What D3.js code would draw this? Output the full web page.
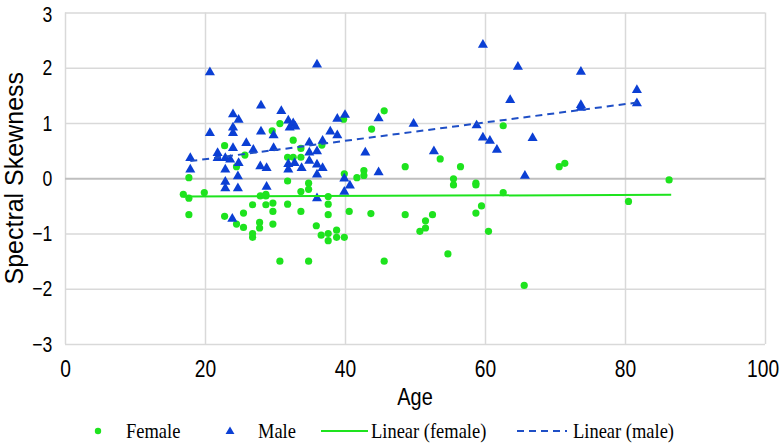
<!DOCTYPE html>
<html>
<head>
<meta charset="utf-8">
<script src="https://cdn.jsdelivr.net/npm/d3@7"></script>
<style>
  html, body { margin: 0; padding: 0; background: #fff; }
  svg { display: block; }
</style>
</head>
<body>
<svg id="chart" width="780" height="445"></svg>
<script>
// ---- data (age, spectral skewness) ----
const femaleAge = [16.9,17.7,17.7,17.7,19.9,22.8,22.8,24.5,24.5,25.7,25.5,25.5,26.8,26.8,26.8,27.8,27.8,27.9,28.7,28.7,
  29.7,29.7,29.7,31.8,31.8,33.7,33.7,34.8,34.8,30.7,34.8,35.9,36.6,37.6,37.6,37.6,37.6,37.6,38.8,38.8,
  39.9,40.6,43.7,39.9,41.7,42.7,42.7,30.7,29.6,32.6,33.7,31.8,32.6,33.7,36.7,43.8,39.8,45.6,62.6,53.6,
  48.6,56.5,55.5,55.5,58.7,58.7,62.6,70.6,71.4,59.5,58.7,48.6,51.5,52.5,51.5,50.7,60.5,45.6,54.7,65.6,
  86.3,80.5,28.7];
const femaleSkew = [-0.29,0.01,-0.36,-0.66,-0.26,0.59,-0.69,0.21,-0.83,0.42,-0.63,-0.89,-0.48,-1.0,-1.07,-0.8,-0.9,-0.32,-0.32,-0.48,
  -0.45,-0.6,-0.83,-0.47,-0.05,-0.6,-0.24,-0.09,-0.2,-1.5,-1.5,-0.86,-1.03,-1.0,-1.13,-0.33,-0.47,-0.66,-0.94,-1.07,
  -1.07,-0.6,-0.64,0.08,0.01,0.14,0.05,0.99,0.86,0.69,0.54,0.38,0.38,0.38,0.6,0.89,1.07,1.22,0.95,0.35,
  0.21,0.21,-0.01,-0.12,-0.09,-0.12,-0.26,0.21,0.27,-0.5,-0.63,-0.66,-0.77,-0.66,-0.9,-0.96,-0.96,-1.5,-1.37,-1.94,
  -0.03,-0.42,-0.29];
const maleAge = [17.9,17.9,20.7,20.7,21.8,21.8,22.9,23.6,24.8,22.9,24.0,24.8,24.0,24.0,24.0,22.9,24.7,22.9,24.7,23.9,
  25.9,26.9,28.0,28.0,29.8,29.8,30.9,31.9,32.6,32.1,32.9,27.9,28.8,31.9,32.8,33.8,31.9,28.8,34.9,36.8,
  37.9,38.9,40.0,38.9,34.9,36.0,34.9,36.0,36.8,36.0,36.0,36.0,39.9,40.7,39.9,42.9,44.8,44.8,49.8,52.7,
  58.8,59.7,59.7,60.7,61.7,63.6,64.7,65.7,66.8,73.7,73.7,73.7,81.7,81.7];
const maleSkew = [0.38,0.17,1.93,0.83,0.47,0.38,0.38,0.35,0.29,0.17,1.17,1.07,0.93,0.83,0.56,-0.05,0.05,-0.17,-0.17,-0.72,
  0.65,0.53,1.33,0.86,0.79,0.56,1.23,1.06,1.01,0.93,0.95,0.23,0.2,0.27,0.29,0.2,0.17,-0.14,0.66,0.69,
  0.86,1.09,1.16,0.79,0.48,0.5,0.33,0.26,0.2,0.08,2.07,-0.35,0.01,-0.12,-0.23,0.48,1.1,0.12,1.0,0.5,
  0.97,2.43,0.75,0.69,0.53,1.43,2.03,0.06,0.74,1.94,1.34,1.29,1.61,1.37];
// trend line end points
const femaleTrendAge = [16.9, 86.6];
const femaleTrendSkew = [-0.33, -0.30];
const maleTrendAge = [17.9, 81.7];
const maleTrendSkew = [0.31, 1.37];

const xTicks = [0,20,40,60,80,100];
const yTicks = [-3,-2,-1,0,1,2,3];
const seriesNames = ["Female","Male","Linear (female)","Linear (male)"];

// ---- drawing ----
const GREEN = "#1ee31e", BLUE = "#0b3fd4", DASHBLUE = "#1f4fc6";
const svg = d3.select("#chart");
const x = d3.scaleLinear().domain([0,100]).range([65,765]);
const y = d3.scaleLinear().domain([-3,3]).range([344,12.5]);
const sansFont = "'Liberation Sans',Arial,sans-serif";
const NARROW = 0.8;

// gridlines
const gx = svg.append("g").attr("transform",`translate(0,${y(-3)})`)
  .call(d3.axisBottom(x).tickValues(xTicks).tickSize(-(y(-3)-y(3))).tickFormat(""));
gx.select(".domain").remove();
gx.selectAll("line").attr("stroke","#d9d9d9").attr("stroke-width",1.5);
const gy = svg.append("g").attr("transform",`translate(${x(0)},0)`)
  .call(d3.axisLeft(y).tickValues(yTicks).tickSize(-(x(100)-x(0))).tickFormat(""));
gy.select(".domain").remove();
gy.selectAll("line").attr("stroke", d => d===0 ? "#bfbfbf" : "#d9d9d9")
  .attr("stroke-width", d => d===0 ? 2 : 1.5);

// tick labels (narrow, tall sans)
const ax = svg.append("g").attr("transform",`translate(0,${y(-3)})`)
  .call(d3.axisBottom(x).tickValues(xTicks).tickSize(0).tickPadding(16).tickFormat(d3.format("d")));
ax.select(".domain").remove();
ax.selectAll("text").attr("font-family",sansFont).attr("font-size",24).attr("fill","#000")
  .attr("transform",`scale(${NARROW},1)`)
  .attr("dx", d => d===100 ? -3 : 0);
const ay = svg.append("g").attr("transform",`translate(${x(0)},0)`)
  .call(d3.axisLeft(y).tickValues(yTicks).tickSize(0).tickPadding(16).tickFormat(d3.format("d")));
ay.select(".domain").remove();
ay.selectAll("text").attr("font-family",sansFont).attr("font-size",22).attr("fill","#000")
  .attr("transform",`scale(${NARROW},1)`)
  .attr("dy", d => d===3 ? "0.42em" : "0.32em");

// axis titles
svg.append("text").attr("transform",`translate(${(x(0)+x(100))/2},405) scale(${NARROW+0.03},1)`)
  .attr("text-anchor","middle").attr("font-family",sansFont).attr("font-size",24).text("Age");
svg.append("text").attr("transform",`translate(23,${(y(3)+y(-3))/2}) rotate(-90)`)
  .attr("text-anchor","middle").attr("font-family",sansFont)
  .attr("font-size",25).text("Spectral Skewness");

// points
const female = femaleAge.map((a,i)=>({a, s: femaleSkew[i]}));
const male = maleAge.map((a,i)=>({a, s: maleSkew[i]}));
svg.append("g").selectAll("circle").data(female).join("circle")
  .attr("cx",d=>x(d.a)).attr("cy",d=>y(d.s)).attr("r",3.6).attr("fill",GREEN);
const tri = d3.symbol().type(d3.symbolTriangle).size(44);
svg.append("g").selectAll("path").data(male).join("path")
  .attr("d",tri).attr("transform",d=>`translate(${x(d.a)},${y(d.s)+0.8})`).attr("fill",BLUE);

// trend lines
const line = d3.line().x(d=>x(d[0])).y(d=>y(d[1]));
svg.append("path").datum(femaleTrendAge.map((a,i)=>[a,femaleTrendSkew[i]]))
  .attr("d",line).attr("stroke",GREEN).attr("stroke-width",2).attr("fill","none");
svg.append("path").datum(maleTrendAge.map((a,i)=>[a,maleTrendSkew[i]]))
  .attr("d",line).attr("stroke",DASHBLUE).attr("stroke-width",2).attr("stroke-dasharray","7,5").attr("fill","none");

// legend
const ly = 431;
const lg = svg.append("g").attr("font-family","'Liberation Serif','Times New Roman',serif").attr("font-size",21);
const legendText = (tx, t) => lg.append("text").attr("transform",`translate(${tx},${ly+7}) scale(0.88,1)`).text(t);
lg.append("circle").attr("cx",98).attr("cy",ly).attr("r",3.2).attr("fill",GREEN);
legendText(126, seriesNames[0]);
lg.append("path").attr("d",d3.symbol().type(d3.symbolTriangle).size(34)).attr("transform",`translate(230,${ly+0.5})`).attr("fill",BLUE);
legendText(258, seriesNames[1]);
lg.append("line").attr("x1",321).attr("x2",368).attr("y1",ly).attr("y2",ly).attr("stroke",GREEN).attr("stroke-width",2);
legendText(371, seriesNames[2]);
lg.append("line").attr("x1",517).attr("x2",567).attr("y1",ly).attr("y2",ly).attr("stroke",DASHBLUE).attr("stroke-width",2).attr("stroke-dasharray","7,5");
legendText(573, seriesNames[3]);
</script>
</body>
</html>
